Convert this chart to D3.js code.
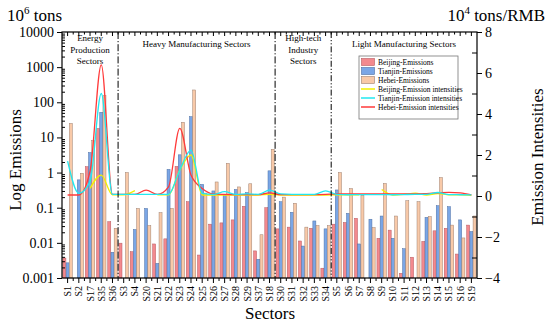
<!DOCTYPE html>
<html>
<head>
<meta charset="utf-8">
<script src="https://cdn.jsdelivr.net/npm/d3@7"></script>
<style>
body { margin: 0; background: #fff; }
text { font-family: "Liberation Serif", "Times New Roman", serif; fill: #000; }
</style>
</head>
<body>
<div id="chart"></div>
<script>
// sectors in plotting order
const sectors = ["S1","S2","S17","S35","S36","S3","S4","S20","S21","S22","S23","S24","S25","S26","S27","S28","S29","S37","S18","S30","S31","S32","S33","S34","S5","S6","S7","S8","S9","S10","S11","S12","S13","S14","S15","S16","S19"];

// emissions, 10^6 tons (null = no bar)
const beijingEm = [0.0037,null,1.47,18,0.04,0.0098,0.0056,null,0.0093,0.013,1.5,0.148,0.0045,0.034,0.037,0.045,0.11,0.0059,0.10,0.025,0.028,0.0113,0.026,0.0019,0.034,0.038,0.05,null,0.0135,0.023,0.00136,0.0039,0.011,0.022,0.026,0.0048,0.032];
const tianjinEm = [0.0027,0.62,3.7,52,0.0054,null,0.024,0.095,0.0026,1.23,3.2,39,0.46,0.30,0.225,0.33,0.27,0.0034,1.12,0.148,0.074,0.0081,0.042,0.025,0.32,0.069,0.0093,0.047,0.058,0.0135,0.0068,null,0.053,0.114,0.107,0.045,0.021];
const hebeiEm = [25,0.95,8.1,154,0.026,1.0,0.095,0.031,0.072,0.095,27,224,0.26,0.54,1.83,0.39,0.48,0.017,4.6,0.20,0.134,0.028,0.031,0.031,1.0,0.35,0.225,0.027,0.49,0.058,0.158,0.148,0.056,0.72,0.032,0.0138,0.058];

// emission intensities, 10^4 tons/RMB
const beijingInt = [0.05,null,0.37,1.02,0.06,0.06,0.26,null,0.06,0.06,1.27,2.0,0.05,0.05,0.05,0.05,0.05,0.05,0.08,0.05,0.05,0.05,0.05,0.05,0.06,0.06,0.06,null,0.32,0.05,0.08,0.14,0.05,0.12,0.06,0.05,0.03];
const tianjinInt = [1.7,0.13,0.7,5.0,0.08,0.08,0.08,0.08,0.08,0.08,1.27,2.24,0.13,0.08,0.21,0.08,0.1,0.08,0.29,0.1,0.08,0.08,0.08,0.25,0.08,0.06,0.07,0.07,0.07,0.06,0.07,0.08,0.08,0.17,0.07,0.06,0.05];
const hebeiInt = [0.05,0.05,1.2,6.4,0.08,0.08,0.08,0.29,0.08,0.45,3.3,1.02,0.37,0.1,0.08,0.07,0.07,0.07,0.15,0.07,0.07,0.07,0.07,0.08,0.1,0.1,0.1,0.1,0.1,0.1,0.1,0.1,0.12,0.15,0.18,0.15,0.05];

const leftTicks = [0.001,0.01,0.1,1,10,100,1000,10000];
const rightTicks = [-4,-2,0,2,4,6,8];

// groups of sectors: first sector, last sector, label lines
const groups = [
  {from:"S1", to:"S36", lines:["Energy","Production","Sectors"]},
  {from:"S3", to:"S18", lines:["Heavy Manufacturing Sectors"]},
  {from:"S30", to:"S34", lines:["High-tech","Industry","Sectors"]},
  {from:"S5", to:"S19", lines:["Light Manufacturing Sectors"]}
];

const width = 550, height = 328;
const pLeft = 62, pRight = 477, pTop = 32, pBottom = 278;

const svg = d3.select("#chart").append("svg")
  .attr("width", width)
  .attr("height", height);

const x = d3.scaleBand().domain(sectors).range([pLeft, pRight]);
const xi = d3.scaleBand().domain([0,1,2]).range([0.9, x.bandwidth() - 0.9]).paddingInner(0.06);
const yL = d3.scaleLog().domain([0.001, 10000]).range([pBottom, pTop]);
const yR = d3.scaleLinear().domain([-4, 8]).range([pBottom, pTop]);
const cx = s => x(s) + x.bandwidth() / 2;

const series = [
  {name:"Beijing-Emissions", em:beijingEm, fill:"#f3898e", stroke:"#b85a60"},
  {name:"Tianjin-Emissions", em:tianjinEm, fill:"#7aa6e6", stroke:"#4d6fa3"},
  {name:"Hebei-Emissions", em:hebeiEm, fill:"#f8c9a8", stroke:"#9e8070"}
];
const lines = [
  {name:"Beijing-Emission intensities", v:beijingInt, color:"#f2f000"},
  {name:"Hebei-Emission intensities", v:hebeiInt, color:"#ff3a3a"},
  {name:"Tianjin-Emission intensities", v:tianjinInt, color:"#22e8f0"}
];

// bars
series.forEach((s, k) => {
  const rows = sectors.map((d, i) => ({sector:d, v:s.em[i]})).filter(d => d.v != null);
  svg.append("g").selectAll("rect")
    .data(rows)
    .join("rect")
      .attr("x", d => x(d.sector) + xi(k))
      .attr("width", xi.bandwidth())
      .attr("y", d => yL(d.v))
      .attr("height", d => pBottom - yL(d.v))
      .attr("fill", s.fill)
      .attr("stroke", s.stroke)
      .attr("stroke-width", 0.5);
});

// intensity lines
lines.forEach(l => {
  const rows = sectors.map((d, i) => ({sector:d, v:l.v[i]}));
  const gen = d3.line()
    .defined(d => d.v != null)
    .x(d => cx(d.sector))
    .y(d => yR(d.v))
    .curve(d3.curveMonotoneX);
  svg.append("path")
    .datum(rows)
    .attr("d", gen)
    .attr("fill", "none")
    .attr("stroke", l.color)
    .attr("stroke-width", 1.3);
});

// group dividers
["S3","S30","S5"].forEach((s, i) => {
  svg.append("line")
    .attr("x1", x(s)).attr("x2", x(s))
    .attr("y1", pTop).attr("y2", pBottom)
    .attr("stroke", "#000")
    .attr("stroke-width", 1)
    .attr("stroke-dasharray", i == 2 ? "6,2,1.2,2,1.2,2" : "7,2,1.2,2");
});

// group labels
groups.forEach(g => {
  const mid = (x(g.from) + x(g.to) + x.bandwidth()) / 2;
  const y0 = g.lines.length == 1 ? 47 : 41;
  const t = svg.append("text")
    .attr("text-anchor", "middle")
    .style("font-size", "9px");
  g.lines.forEach((ln, i) => {
    t.append("tspan").attr("x", mid).attr("y", y0 + i * 11.5).text(ln);
  });
});

// frame
svg.append("rect")
  .attr("x", pLeft).attr("y", pTop)
  .attr("width", pRight - pLeft).attr("height", pBottom - pTop)
  .attr("fill", "none").attr("stroke", "#000").attr("stroke-width", 1.2);

// left axis
svg.append("g")
  .attr("transform", `translate(${pLeft},0)`)
  .call(d3.axisLeft(yL).tickValues(leftTicks).tickSize(5).tickSizeOuter(0)
    .tickFormat(d => d >= 1 ? d3.format("d")(d) : String(d)))
  .call(g => g.select(".domain").remove())
  .call(g => g.selectAll("text").style("font-size", "14px").attr("font-family", null));
const minorL = [];
leftTicks.slice(0, -1).forEach(t => { for (let m = 2; m < 10; m++) minorL.push(t * m); });
svg.append("g")
  .attr("transform", `translate(${pLeft},0)`)
  .call(d3.axisLeft(yL).tickValues(minorL).tickSize(-3).tickFormat(""))
  .call(g => g.select(".domain").remove());

// right axis
svg.append("g")
  .attr("transform", `translate(${pRight},0)`)
  .call(d3.axisRight(yR).tickValues(rightTicks).tickSize(5).tickSizeOuter(0).tickFormat(d3.format("d")))
  .call(g => g.select(".domain").remove())
  .call(g => g.selectAll("text").style("font-size", "14px").attr("font-family", null).attr("x", 8));
svg.append("g")
  .attr("transform", `translate(${pRight},0)`)
  .call(d3.axisRight(yR).tickValues([-3,-1,1,3,5,7]).tickSize(-5).tickFormat(""))
  .call(g => g.select(".domain").remove());

// bottom axis
svg.append("g")
  .attr("transform", `translate(0,${pBottom})`)
  .call(d3.axisBottom(x).tickSize(5).tickSizeOuter(0))
  .call(g => g.select(".domain").remove())
  .call(g => g.selectAll("text")
    .attr("font-family", null)
    .style("font-size", "10px")
    .attr("text-anchor", "end")
    .attr("transform", "rotate(-90)")
    .attr("x", -8).attr("y", 0).attr("dy", "0.35em"));
const bounds = sectors.slice(1).map(s => x(s));
svg.append("g").selectAll("line")
  .data(bounds)
  .join("line")
    .attr("x1", d => d).attr("x2", d => d)
    .attr("y1", pBottom).attr("y2", pBottom + 3)
    .attr("stroke", "#000");

// top axis (inward ticks)
svg.append("g")
  .attr("transform", `translate(0,${pTop})`)
  .call(d3.axisTop(x).tickSize(-4).tickSizeOuter(0).tickFormat(""))
  .call(g => g.select(".domain").remove());
svg.append("g").selectAll("line")
  .data(bounds)
  .join("line")
    .attr("x1", d => d).attr("x2", d => d)
    .attr("y1", pTop).attr("y2", pTop + 2.5)
    .attr("stroke", "#000");

// axis titles
svg.append("text")
  .attr("transform", "translate(21,160) rotate(-90)")
  .attr("text-anchor", "middle")
  .style("font-size", "17px")
  .text("Log Emissions");
svg.append("text")
  .attr("transform", "translate(543,157) rotate(-90)")
  .attr("text-anchor", "middle")
  .style("font-size", "17px")
  .text("Emission Intensities");
svg.append("text")
  .attr("x", 270).attr("y", 319)
  .attr("text-anchor", "middle")
  .style("font-size", "17px")
  .text("Sectors");

const unitL = svg.append("text").attr("x", 7).attr("y", 21).style("font-size", "17px");
unitL.append("tspan").text("10");
unitL.append("tspan").attr("dy", -7).style("font-size", "11px").text("6");
unitL.append("tspan").attr("dy", 7).text(" tons");
const unitR = svg.append("text").attr("x", 545).attr("y", 21).attr("text-anchor", "end").style("font-size", "17px");
unitR.append("tspan").text("10");
unitR.append("tspan").attr("dy", -7).style("font-size", "11px").text("4");
unitR.append("tspan").attr("dy", 7).text(" tons/RMB");

// legend
const lg = svg.append("g").attr("transform", "translate(359,56)");
lg.append("rect")
  .attr("width", 99).attr("height", 63)
  .attr("fill", "#fff").attr("stroke", "#777").attr("stroke-width", 0.8);
series.forEach((s, i) => {
  lg.append("rect")
    .attr("x", 2.5).attr("y", 2.5 + i * 9)
    .attr("width", 13).attr("height", 7)
    .attr("fill", s.fill).attr("stroke", s.stroke).attr("stroke-width", 0.6);
  lg.append("text")
    .attr("x", 19).attr("y", 6 + i * 9).attr("dy", "0.35em")
    .style("font-size", "7.5px").text(s.name);
});
[lines[0], lines[2], lines[1]].forEach((l, i) => {
  const yy = 33 + i * 9;
  lg.append("line")
    .attr("x1", 2).attr("x2", 16).attr("y1", yy).attr("y2", yy)
    .attr("stroke", l.color).attr("stroke-width", 1.5);
  lg.append("text")
    .attr("x", 19).attr("y", yy).attr("dy", "0.35em")
    .style("font-size", "7.5px").text(l.name);
});
</script>
</body>
</html>
